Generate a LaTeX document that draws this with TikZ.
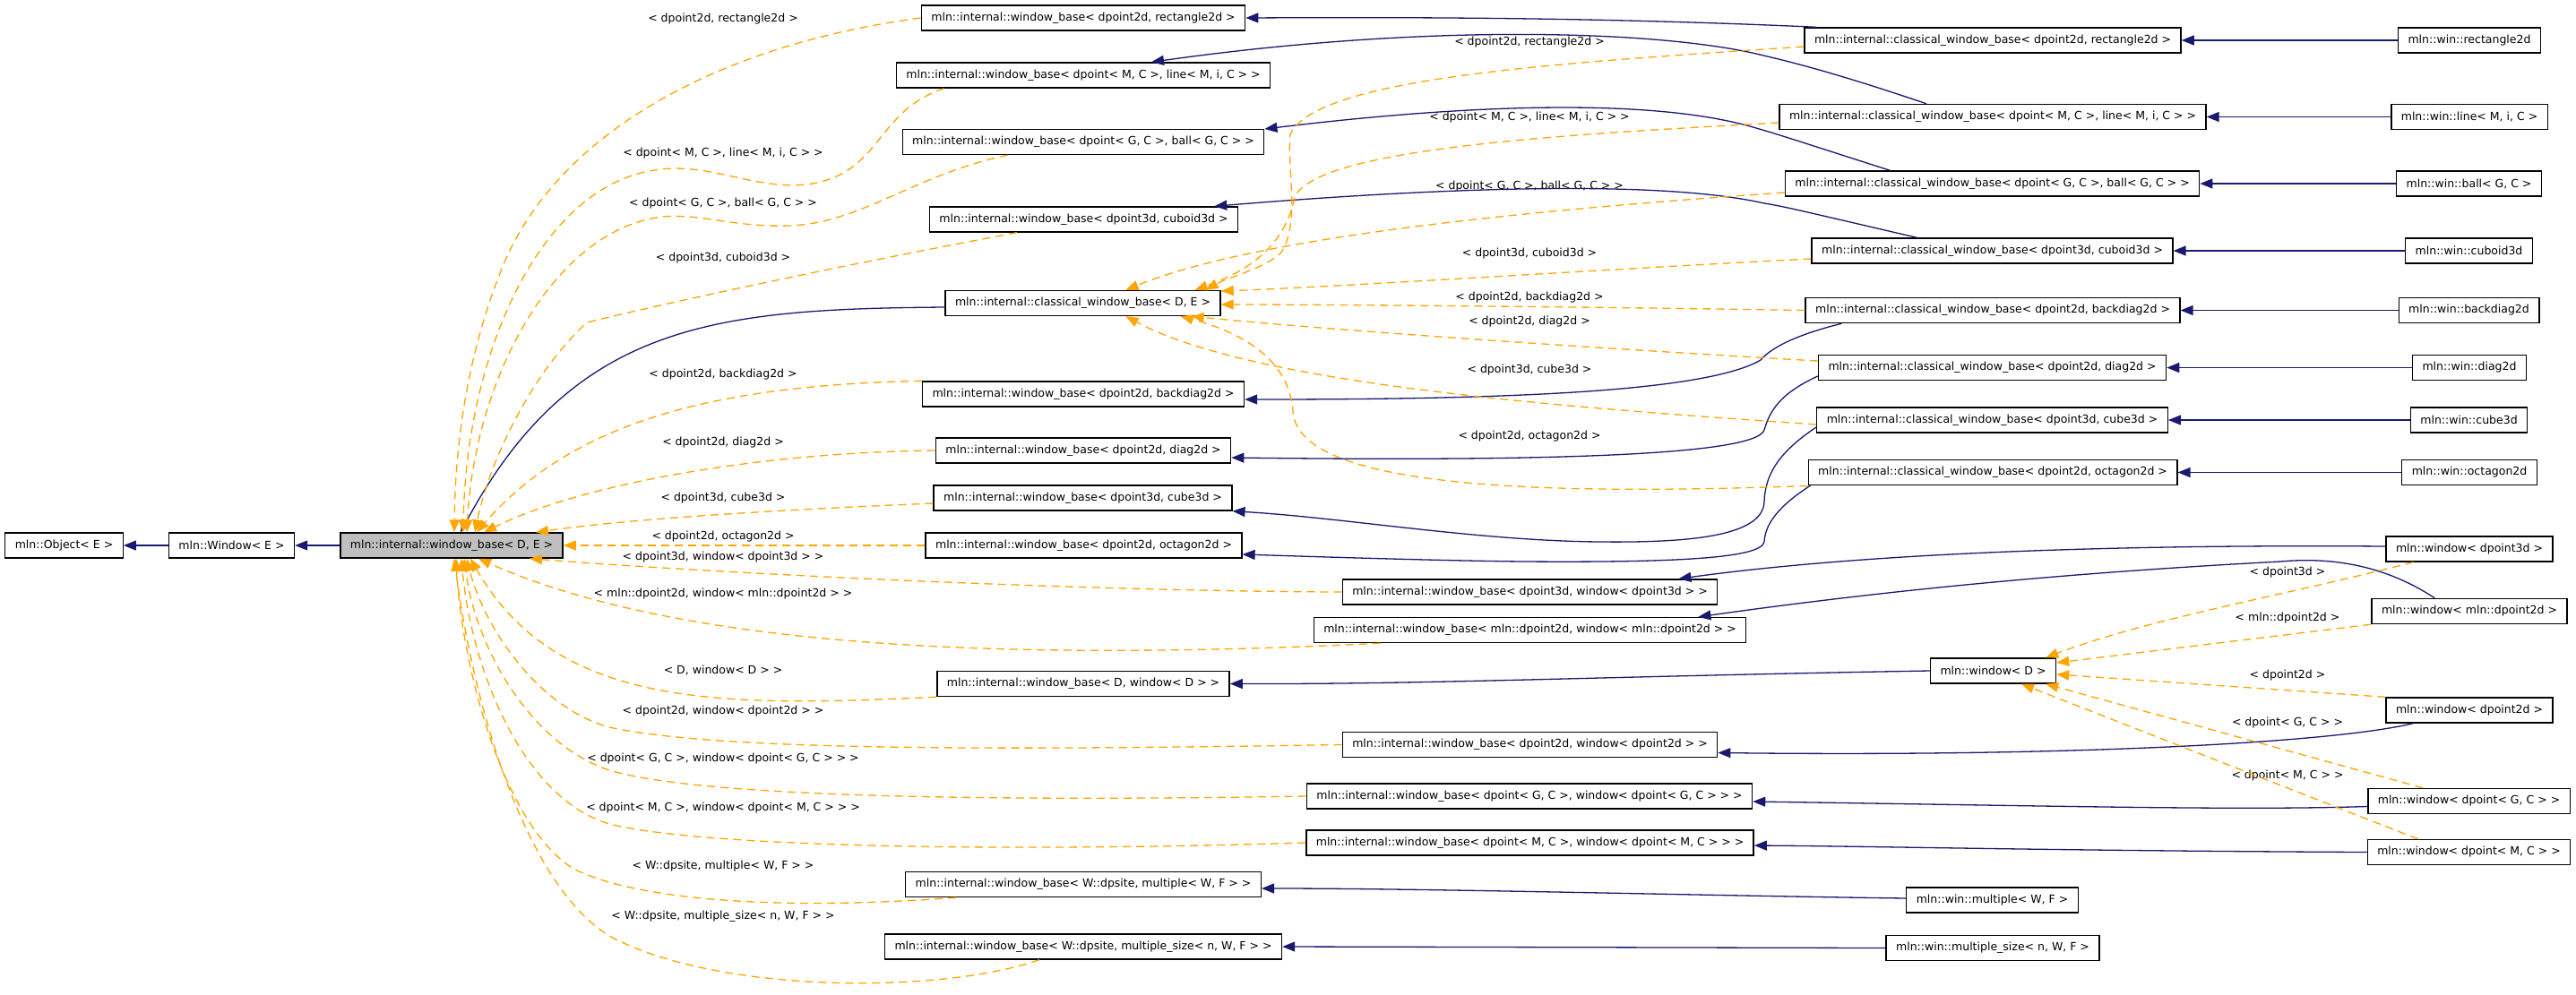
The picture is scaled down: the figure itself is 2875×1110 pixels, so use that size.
\documentclass[tikz,border=0pt]{standalone}
\usepackage{fontspec}
\setmainfont{DejaVu Sans}
\usetikzlibrary{arrows.meta}
\definecolor{DoxNavy}{RGB}{25,25,112}
\definecolor{DoxOrange}{RGB}{255,165,0}
\definecolor{DoxGray}{RGB}{191,191,191}
\newcommand{\doxfont}{\fontsize{6.25}{7.5}\selectfont}

\begin{document}
\begin{tikzpicture}[x=.5pt,y=-.5pt,
  cls/.style={draw=black,line width=.7pt,fill=white,inner xsep=5.5pt,inner ysep=0pt,minimum height=14pt,font=\doxfont},
  lbl/.style={font=\doxfont,inner sep=0pt},
  inh/.style={DoxNavy,line width=.65pt,-{Triangle[length=7pt,width=5.5pt]}},
  tpl/.style={DoxOrange,line width=.65pt,dash pattern=on 4.5pt off 3pt,-{Triangle[length=7pt,width=5.5pt]}}]
\fill[white] (0,0) rectangle (2875,1110);\useasboundingbox (0,0) rectangle (2875,1110);
\node[cls] (obj) at (71.5,609) {mln::Object< E >};
\node[cls] (winE) at (258.5,609) {mln::Window< E >};
\node[cls,fill=DoxGray] (wbDE) at (504,609) {mln::internal::window\_base< D, E >};
\node[cls] (wbRect) at (1209,20) {mln::internal::window\_base< dpoint2d, rectangle2d >};
\node[cls] (wbLine) at (1209,84) {mln::internal::window\_base< dpoint< M, C >, line< M, i, C > >};
\node[cls] (wbBall) at (1209,158.5) {mln::internal::window\_base< dpoint< G, C >, ball< G, C > >};
\node[cls] (wbCuboid) at (1209.5,245) {mln::internal::window\_base< dpoint3d, cuboid3d >};
\node[cls] (cwbDE) at (1208.5,338.5) {mln::internal::classical\_window\_base< D, E >};
\node[cls] (wbBackdiag) at (1209,440) {mln::internal::window\_base< dpoint2d, backdiag2d >};
\node[cls] (wbDiag) at (1209,503) {mln::internal::window\_base< dpoint2d, diag2d >};
\node[cls] (wbCube) at (1208.5,556) {mln::internal::window\_base< dpoint3d, cube3d >};
\node[cls] (wbOctagon) at (1209.5,609) {mln::internal::window\_base< dpoint2d, octagon2d >};
\node[cls] (wbWinD) at (1209,763.5) {mln::internal::window\_base< D, window< D > >};
\node[cls] (wbMult) at (1209,987.5) {mln::internal::window\_base< W::dpsite, multiple< W, F > >};
\node[cls] (wbMultSize) at (1209,1057) {mln::internal::window\_base< W::dpsite, multiple\_size< n, W, F > >};
\node[cls] (wbWinThree) at (1707.5,661) {mln::internal::window\_base< dpoint3d, window< dpoint3d > >};
\node[cls] (wbWinMln) at (1707.5,703.5) {mln::internal::window\_base< mln::dpoint2d, window< mln::dpoint2d > >};
\node[cls] (wbWinTwo) at (1707.5,831.5) {mln::internal::window\_base< dpoint2d, window< dpoint2d > >};
\node[cls] (wbWinG) at (1707,889) {mln::internal::window\_base< dpoint< G, C >, window< dpoint< G, C > > >};
\node[cls] (wbWinM) at (1707.5,941) {mln::internal::window\_base< dpoint< M, C >, window< dpoint< M, C > > >};
\node[cls] (cwbRect) at (2224,45) {mln::internal::classical\_window\_base< dpoint2d, rectangle2d >};
\node[cls] (cwbLine) at (2224,130.5) {mln::internal::classical\_window\_base< dpoint< M, C >, line< M, i, C > >};
\node[cls] (cwbBall) at (2223.5,205) {mln::internal::classical\_window\_base< dpoint< G, C >, ball< G, C > >};
\node[cls] (cwbCuboid) at (2223.5,280) {mln::internal::classical\_window\_base< dpoint3d, cuboid3d >};
\node[cls] (cwbBackdiag) at (2224,346.5) {mln::internal::classical\_window\_base< dpoint2d, backdiag2d >};
\node[cls] (cwbDiag) at (2223.5,410.5) {mln::internal::classical\_window\_base< dpoint2d, diag2d >};
\node[cls] (cwbCube) at (2223.5,469) {mln::internal::classical\_window\_base< dpoint3d, cube3d >};
\node[cls] (cwbOctagon) at (2224,527.5) {mln::internal::classical\_window\_base< dpoint2d, octagon2d >};
\node[cls] (winD) at (2224.5,749) {mln::window< D >};
\node[cls] (mult) at (2223.5,1005) {mln::win::multiple< W, F >};
\node[cls] (multSize) at (2224,1058.5) {mln::win::multiple\_size< n, W, F >};
\node[cls] (winRect) at (2756,45) {mln::win::rectangle2d};
\node[cls] (winLine) at (2756,130.5) {mln::win::line< M, i, C >};
\node[cls] (winBall) at (2755.5,205) {mln::win::ball< G, C >};
\node[cls] (winCuboid) at (2755.5,280) {mln::win::cuboid3d};
\node[cls] (winBackdiag) at (2755.5,346.5) {mln::win::backdiag2d};
\node[cls] (winDiag) at (2756,410.5) {mln::win::diag2d};
\node[cls] (winCube) at (2755.5,469) {mln::win::cube3d};
\node[cls] (winOctagon) at (2756,527.5) {mln::win::octagon2d};
\node[cls] (winThree) at (2756,613) {mln::window< dpoint3d >};
\node[cls] (winMln) at (2756,682.5) {mln::window< mln::dpoint2d >};
\node[cls] (winTwo) at (2756,793) {mln::window< dpoint2d >};
\node[cls] (winG) at (2755.5,894.5) {mln::window< dpoint< G, C > >};
\node[cls] (winM) at (2755.5,951.5) {mln::window< dpoint< M, C > >};
\foreach \y/\t [count=\i] in {21/{< dpoint2d, rectangle2d >},171/{< dpoint< M, C >, line< M, i, C > >},227/{< dpoint< G, C >, ball< G, C > >},288/{< dpoint3d, cuboid3d >},418/{< dpoint2d, backdiag2d >},494/{< dpoint2d, diag2d >},556/{< dpoint3d, cube3d >},599/{< dpoint2d, octagon2d >},622/{< dpoint3d, window< dpoint3d > >},663/{< mln::dpoint2d, window< mln::dpoint2d > >},748/{< D, window< D > >},794/{< dpoint2d, window< dpoint2d > >},847/{< dpoint< G, C >, window< dpoint< G, C > > >},902/{< dpoint< M, C >, window< dpoint< M, C > > >},967/{< W::dpsite, multiple< W, F > >},1023/{< W::dpsite, multiple\_size< n, W, F > >}}
  \node[lbl] (baseLbl\i) at (807,\y) {\t};
\foreach \y/\t [count=\i] in {47/{< dpoint2d, rectangle2d >},131/{< dpoint< M, C >, line< M, i, C > >},208/{< dpoint< G, C >, ball< G, C > >},283/{< dpoint3d, cuboid3d >},332/{< dpoint2d, backdiag2d >},359/{< dpoint2d, diag2d >},413/{< dpoint3d, cube3d >},487/{< dpoint2d, octagon2d >}}
  \node[lbl] (classLbl\i) at (1707,\y) {\t};
\foreach \y/\t [count=\i] in {639/{< dpoint3d >},690/{< mln::dpoint2d >},754/{< dpoint2d >},807/{< dpoint< G, C > >},866/{< dpoint< M, C > >}}
  \node[lbl] (winLbl\i) at (2553,\y) {\t};
\draw[inh] (winE.west) -- (obj.east);\draw[inh] (wbDE.west) -- (winE.east);
\draw[inh] ([yshift=-2.25pt]cwbDE.west) .. controls (800,345) and (640,360) .. ([xshift=5pt]wbDE.north);
\draw[inh] ([xshift=7pt]cwbRect.north west) .. controls (1800,20) and (1600,19) .. (wbRect.east);
\draw[inh] ([xshift=-37pt]cwbLine.north) .. controls (2030,75) and (1980,65) .. (1960,60) .. controls (1850,35) and (1600,25) .. ([xshift=38pt]wbLine.north);
\draw[inh] ([xshift=-57pt]cwbBall.north) .. controls (2030,165) and (1985,150) .. (1960,143) .. controls (1850,110) and (1650,115) .. ([yshift=7.25pt]wbBall.east);
\draw[inh] ([xshift=-42pt]cwbCuboid.north) .. controls (2030,240) and (1990,230) .. (1969,227) .. controls (1850,200) and (1600,210) .. ([xshift=-13.5pt]wbCuboid.north east);
\draw[inh] ([xshift=20.5pt]cwbBackdiag.south west) .. controls (2000,375) and (1975,390) .. (1965,402) .. controls (1900,440) and (1650,446) .. ([yshift=-3pt]wbBackdiag.east);
\draw[inh] ([yshift=-4.75pt]cwbDiag.west) .. controls (1985,440) and (1975,460) .. (1969,480) .. controls (1960,510) and (1700,515) .. ([yshift=-4pt]wbDiag.east);
\draw[inh] ([yshift=-4pt]cwbCube.west) .. controls (1985,505) and (1970,530) .. (1969,560) .. controls (1968,600) and (1880,606) .. (1786,605) .. controls (1650,604) and (1500,578) .. (wbCube.south east);
\draw[inh] ([xshift=1.5pt]cwbOctagon.south west) .. controls (1985,565) and (1970,585) .. (1969,605) .. controls (1966,625) and (1850,628) .. (1700,627) .. controls (1600,626) and (1450,621) .. ([yshift=-5pt]wbOctagon.east);
\foreach \a/\b in {winRect/cwbRect,winLine/cwbLine,winBall/cwbBall,winCuboid/cwbCuboid,winBackdiag/cwbBackdiag,winDiag/cwbDiag,winCube/cwbCube,winOctagon/cwbOctagon,multSize/wbMultSize}
  \draw[inh] (\a.west) -- (\b.east);
\draw[inh] ([yshift=1.5pt]winThree.west) .. controls (2400,608) and (2100,615) .. ([xshift=-22pt]wbWinThree.north east);
\draw[inh] ([xshift=35.5pt]winMln.north west) .. controls (2660,630) and (2600,622) .. (2545,627) .. controls (2300,640) and (2100,660) .. ([xshift=-27pt]wbWinMln.north east);
\draw[inh] (winD.west) .. controls (1800,755) and (1600,764) .. (wbWinD.east);
\draw[inh] ([xshift=15.5pt]winTwo.south west) .. controls (2600,830) and (2300,845) .. ([yshift=-4.5pt]wbWinTwo.east);
\draw[inh] ([yshift=-3pt]winG.west) .. controls (2500,905) and (2300,900) .. ([yshift=-3pt]wbWinG.east);
\draw[inh] (winM.west) .. controls (2300,950) and (2100,945) .. ([yshift=-1.5pt]wbWinM.east);
\draw[inh] ([yshift=1pt]mult.west) .. controls (1900,1000) and (1600,992) .. ([yshift=-2.25pt]wbMult.east);
\draw[tpl] (wbRect.west) .. controls (800,50) and (620,150) .. (560,300) .. controls (520,400) and (508,500) .. ([xshift=1.5pt]wbDE.north);
\draw[tpl] ([xshift=27pt]wbLine.south west) .. controls (975,125) and (985,195) .. (900,206) .. controls (840,212) and (790,180) .. (730,190) .. controls (600,210) and (520,400) .. ([xshift=6.5pt]wbDE.north);
\draw[tpl] ([xshift=59pt]wbBall.south west) .. controls (1020,195) and (960,250) .. (880,252) .. controls (820,254) and (780,238) .. (740,242) .. controls (620,255) and (530,420) .. ([xshift=8.5pt]wbDE.north);
\draw[tpl] ([xshift=49pt]wbCuboid.south west) .. controls (1000,285) and (800,325) .. (655,360) .. controls (590,420) and (545,520) .. ([xshift=13pt]wbDE.north);
\draw[tpl] (wbBackdiag.north west) .. controls (800,430) and (640,470) .. ([xshift=14pt]wbDE.north);
\draw[tpl] (wbDiag.west) .. controls (850,505) and (650,540) .. ([xshift=18pt]wbDE.north);
\draw[tpl] ([yshift=-3pt]wbCube.west) .. controls (850,570) and (700,580) .. ([xshift=47pt]wbDE.north);
\draw[tpl] (wbOctagon.west) -- (wbDE.east);
\draw[tpl] (wbWinThree.west) .. controls (1200,660) and (800,640) .. ([xshift=43.5pt]wbDE.south);
\draw[tpl] ([xshift=37.5pt]wbWinMln.south west) .. controls (1100,740) and (750,720) .. ([xshift=15pt]wbDE.south);
\draw[tpl] (wbWinD.south west) .. controls (800,790) and (620,790) .. ([xshift=10.5pt]wbDE.south);
\draw[tpl] (wbWinTwo.west) .. controls (1100,838) and (800,838) .. (680,812) .. controls (600,790) and (540,700) .. ([xshift=8.5pt]wbDE.south);
\draw[tpl] (wbWinG.west) .. controls (1100,895) and (780,890) .. (680,860) .. controls (590,830) and (530,720) .. ([xshift=7pt]wbDE.south);
\draw[tpl] (wbWinM.west) .. controls (1100,952) and (780,945) .. (680,920) .. controls (580,890) and (525,740) .. ([xshift=5.5pt]wbDE.south);
\draw[tpl] ([xshift=28.5pt]wbMult.south west) .. controls (900,1015) and (720,1010) .. (640,970) .. controls (560,920) and (515,740) .. ([xshift=2.5pt]wbDE.south);
\draw[tpl] ([xshift=86.5pt]wbMultSize.south west) .. controls (1050,1110) and (800,1110) .. (680,1045) .. controls (590,990) and (530,800) .. ([xshift=1.5pt]wbDE.south);
\draw[tpl] ([yshift=-3.5pt]cwbRect.west) .. controls (1750,70) and (1470,85) .. (1440,150) .. controls (1436,190) and (1452,250) .. (1429,283) .. controls (1410,300) and (1370,310) .. ([xshift=-8.5pt]cwbDE.north east);
\draw[tpl] ([yshift=-3.25pt]cwbLine.west) .. controls (1750,150) and (1470,165) .. (1445,220) .. controls (1435,270) and (1400,300) .. ([xshift=-14.5pt]cwbDE.north east);
\draw[tpl] ([yshift=-5pt]cwbBall.west) .. controls (1700,235) and (1400,265) .. ([xshift=24pt]cwbDE.north);
\draw[tpl] ([yshift=-4.5pt]cwbCuboid.west) .. controls (1800,300) and (1500,320) .. ([yshift=6.75pt]cwbDE.east);
\draw[tpl] (cwbBackdiag.west) .. controls (1800,343) and (1500,340) .. ([yshift=-0.75pt]cwbDE.east);
\draw[tpl] ([yshift=3.75pt]cwbDiag.west) .. controls (1800,390) and (1500,370) .. ([xshift=-16.5pt]cwbDE.south east);
\draw[tpl] ([yshift=-2.5pt]cwbCube.west) .. controls (1750,455) and (1400,430) .. ([xshift=24pt]cwbDE.south);
\draw[tpl] ([yshift=-7.5pt]cwbOctagon.west) .. controls (1750,552) and (1450,550) .. (1443,460) .. controls (1440,410) and (1400,375) .. ([xshift=-22.5pt]cwbDE.south east);
\draw[tpl] ([xshift=15.5pt]winThree.south west) .. controls (2550,665) and (2400,690) .. ([xshift=-6pt]winD.north east);
\draw[tpl] (winMln.south west) -- ([yshift=4.5pt]winD.east);
\draw[tpl] (winTwo.north west) -- ([yshift=-2pt]winD.east);
\draw[tpl] ([xshift=31pt]winG.north west) -- ([xshift=-6pt]winD.south east);
\draw[tpl] ([xshift=28.5pt]winM.north west) -- ([xshift=-19.5pt]winD.south east);
\end{tikzpicture}
\end{document}
